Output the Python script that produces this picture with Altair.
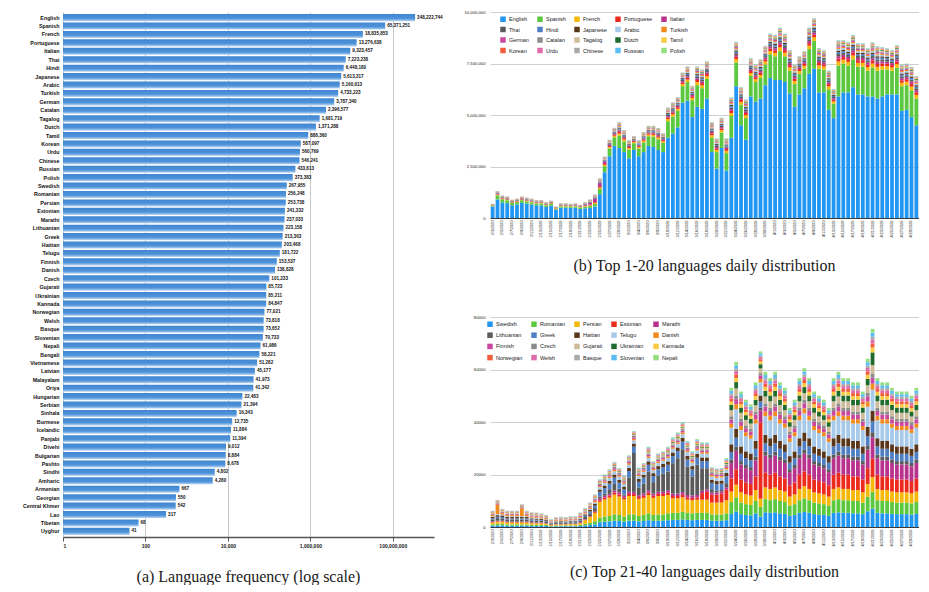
import altair as alt
import pandas as pd

# ---------------- (a) language frequency ----------------
LANGS = ["English", "Spanish", "French", "Portuguese", "Italian", "Thai", "Hindi", "Japanese",
         "Arabic", "Turkish", "German", "Catalan", "Tagalog", "Dutch", "Tamil", "Korean", "Urdu",
         "Chinese", "Russian", "Polish", "Swedish", "Romanian", "Persian", "Estonian", "Marathi",
         "Lithuanian", "Greek", "Haitian", "Telugu", "Finnish", "Danish", "Czech", "Gujarati",
         "Ukrainian", "Kannada", "Norwegian", "Welsh", "Basque", "Slovenian", "Nepali", "Bengali",
         "Vietnamese", "Latvian", "Malayalam", "Oriya", "Hungarian", "Serbian", "Sinhala", "Burmese",
         "Icelandic", "Panjabi", "Divehi", "Bulgarian", "Pashto", "Sindhi", "Amharic", "Armenian",
         "Georgian", "Central Khmer", "Lao", "Tibetan", "Uyghur"]
COUNTS = [348222744, 65371251, 18835853, 13276638, 9323457, 7223238, 6448180, 5613317,
          5160613, 4733223, 3787340, 2396577, 1681719, 1371288, 888360, 587097, 560769,
          546241, 433813, 373383, 267955, 256248, 253738, 241332, 237033,
          223158, 213363, 203468, 181722, 153537, 138828, 101233, 85723,
          85211, 84847, 77021, 73818, 73652, 70733, 61986, 58221,
          51282, 45177, 41973, 41342, 22483, 21394, 16343, 12735,
          11884, 11394, 9012, 8884, 8678, 4802, 4280, 667,
          550, 542, 317, 68, 41]
A_TICKS = [1, 100, 10000, 1000000, 100000000]

PALETTE = ["#2196F3", "#5CC83F", "#F6B80A", "#EC2B1E", "#B7338E",
           "#5A5A5A", "#4E7EC4", "#5B3719", "#A7C9EA", "#F28B1F",
           "#CB48A0", "#8C8C8C", "#CDBB9A", "#1F6B2E", "#F8CB44",
           "#F25B3B", "#E06BA9", "#A9A9A9", "#5CBDF4", "#95DF80"]

START_DATE = "2020-02-03"
N_DAYS = 88
DAYS = [d.strftime("%-m/%-d/%Y") for d in pd.date_range(START_DATE, periods=N_DAYS)]

# ---------------- (b) top 1-20, values in thousands of tweets ----------------
B_LANGS = ["English", "Spanish", "French", "Portuguese", "Italian",
           "Thai", "Hindi", "Japanese", "Arabic", "Turkish",
           "German", "Catalan", "Tagalog", "Dutch", "Tamil",
           "Korean", "Urdu", "Chinese", "Russian", "Polish"]
B_YTICKS = [0, 2500000, 5000000, 7500000, 10000000]

B_ENGLISH = [560,900,760,720,620,660,740,700,660,620,610,540,600,400,500,500,490,500,440,470,490,560,
             1160,2220,3000,3500,3400,3200,2900,3300,3000,3200,3500,3450,3300,3200,
             3900,4100,4400,5600,5700,4900,5400,5300,5800,3200,2400,3400,2300,
             3900,6400,4500,3800,5900,5650,5800,6450,6800,6700,6700,6600,6050,5400,6000,6300,7000,7250,6100,6100,
             5250,4850,5900,6100,6100,6350,6000,6000,5900,5900,5800,5900,6000,6000,6000,5200,5250,4900,4500]
B_SPANISH = [40,200,150,140,110,110,120,110,100,90,95,80,85,50,70,70,65,70,65,80,90,120,
             250,300,380,420,600,520,420,330,380,470,470,500,520,450,
             800,820,800,800,900,820,1050,1000,950,700,800,750,850,
             1050,1150,1000,1050,1000,950,1000,1000,1150,1150,1400,1250,1100,1100,1000,950,1200,1350,1150,1100,
             1000,700,1500,1400,1300,1350,1350,1350,1250,1400,1350,1300,1200,1150,1300,1200,1200,1300,1300]
B_FRENCH = [14,33,29,30,26,27,30,29,29,26,26,23,25,17,23,23,22,23,22,29,38,51,
            59,60,63,72,105,87,72,56,63,80,80,83,87,75,
            105,110,105,105,120,110,143,143,135,120,105,113,113,
            143,158,135,143,135,135,143,143,158,165,180,173,158,150,135,135,165,173,158,150,
            143,113,195,180,180,188,180,180,173,195,188,173,165,158,173,165,165,180,173]
B_PORTUGUESE = [10,24,21,22,19,20,22,21,21,19,19,17,18,12,17,17,16,17,16,21,28,37,
                43,44,46,53,77,64,53,41,46,58,58,61,64,55,
                77,80,77,77,88,80,105,105,99,88,77,83,83,
                105,116,99,105,99,99,105,105,116,121,132,127,116,110,99,99,121,127,116,110,
                105,83,143,132,132,138,132,132,127,143,138,127,121,116,127,121,121,132,127]
B_ITALIAN = [8,20,17,18,15,16,18,17,17,15,16,14,15,10,14,14,13,14,13,50,100,170,
             180,120,60,43,63,52,43,33,38,48,48,50,52,45,
             63,66,63,63,72,66,86,86,81,72,63,68,68,
             86,95,81,86,81,81,86,86,95,99,108,104,95,90,81,81,99,104,95,90,
             86,68,117,108,108,113,108,108,104,117,113,104,99,95,104,99,99,108,104]
B_THAI = [7,18,15,16,14,14,16,15,15,14,14,12,13,9,12,12,12,12,12,15,20,27,
          31,32,34,38,56,46,38,30,34,42,42,44,46,40,
          56,58,56,56,64,58,76,76,72,64,56,60,60,
          76,84,72,76,72,72,76,76,84,88,96,92,84,80,72,72,88,92,84,80,
          76,60,104,96,96,100,96,96,92,104,100,92,88,84,92,88,88,96,92]
B_HINDI = [6,15,13,14,12,13,14,13,13,12,12,11,12,8,11,11,10,11,10,13,18,24,
           27,28,29,34,49,41,34,26,29,37,37,39,41,35,
           49,51,49,49,56,51,67,67,63,56,49,53,53,
           67,74,63,67,63,63,67,67,74,77,84,81,74,70,63,63,77,81,74,70,
           67,53,91,84,84,88,84,84,81,91,88,81,77,74,81,77,77,84,81]
B_JAPANESE = [5,13,11,12,10,11,12,11,11,10,11,9,10,7,9,9,9,9,9,11,15,20,
              23,24,25,29,42,35,29,22,25,32,32,33,35,30,
              42,44,42,42,48,44,57,57,54,48,42,45,45,
              57,63,54,57,54,54,57,57,63,66,72,69,63,60,54,54,66,69,63,60,
              57,45,78,72,72,75,72,72,69,78,75,69,66,63,69,66,66,72,69]
B_ARABIC = [5,13,11,12,10,11,12,11,11,10,11,9,10,7,9,9,9,9,9,11,15,20,
            23,24,25,29,42,35,29,22,25,32,32,33,35,30,
            42,44,42,42,48,44,57,57,54,48,42,45,45,
            57,63,54,57,54,54,57,57,63,66,72,69,63,60,54,54,66,69,63,60,
            57,45,78,72,72,75,72,72,69,78,75,69,66,63,69,66,66,72,69]
B_TURKISH = [5,11,10,10,9,9,10,10,10,9,9,8,8,6,8,8,7,8,7,10,13,17,
             20,20,21,24,35,29,24,19,21,27,27,28,29,25,
             35,37,35,35,40,37,48,48,45,40,35,38,38,
             48,53,45,48,45,45,48,48,53,55,60,58,53,50,45,45,55,58,53,50,
             48,38,65,60,60,63,60,60,58,65,63,58,55,53,58,55,55,60,58]
B_GERMAN = [5,11,10,10,9,9,10,10,10,9,9,8,8,6,8,8,7,8,7,10,13,17,
            20,20,21,24,35,29,24,19,21,27,27,28,29,25,
            35,37,35,35,40,37,48,48,45,40,35,38,38,
            48,53,45,48,45,45,48,48,53,55,60,58,53,50,45,45,55,58,53,50,
            48,38,65,60,60,63,60,60,58,65,63,58,55,53,58,55,55,60,58]
B_CATALAN = [4,9,8,8,7,7,8,8,8,7,7,6,7,4,6,6,6,6,6,8,10,14,
             16,16,17,19,28,23,19,15,17,21,21,22,23,20,
             28,29,28,28,32,29,38,38,36,32,28,30,30,
             38,42,36,38,36,36,38,38,42,44,48,46,42,40,36,36,44,46,42,40,
             38,30,52,48,48,50,48,48,46,52,50,46,44,42,46,44,44,48,46]
B_TAGALOG = [3,7,6,6,5,5,6,6,6,5,5,5,5,3,5,5,4,5,4,6,8,10,
             12,12,13,14,21,17,14,11,13,16,16,17,17,15,
             21,22,21,21,24,22,29,29,27,24,21,23,23,
             29,32,27,29,27,27,29,29,32,33,36,35,32,30,27,27,33,35,32,30,
             29,23,39,36,36,38,36,36,35,39,38,35,33,32,35,33,33,36,35]
B_DUTCH = [3,7,6,6,5,5,6,6,6,5,5,5,5,3,5,5,4,5,4,6,8,10,
           12,12,13,14,21,17,14,11,13,16,16,17,17,15,
           21,22,21,21,24,22,29,29,27,24,21,23,23,
           29,32,27,29,27,27,29,29,32,33,36,35,32,30,27,27,33,35,32,30,
           29,23,39,36,36,38,36,36,35,39,38,35,33,32,35,33,33,36,35]
B_TAMIL = [3,7,6,6,5,5,6,6,6,5,5,5,5,3,5,5,4,5,4,6,8,10,
           12,12,13,14,21,17,14,11,13,16,16,17,17,15,
           21,22,21,21,24,22,29,29,27,24,21,23,23,
           29,32,27,29,27,27,29,29,32,33,36,35,32,30,27,27,33,35,32,30,
           29,23,39,36,36,38,36,36,35,39,38,35,33,32,35,33,33,36,35]
B_KOREAN = [2,4,4,4,3,4,4,4,4,3,4,3,3,2,3,3,3,3,3,4,5,7,
            8,8,8,10,14,12,10,7,8,11,11,11,12,10,
            14,15,14,14,16,15,19,19,18,16,14,15,15,
            19,21,18,19,18,18,19,19,21,22,24,23,21,20,18,18,22,23,21,20,
            19,15,26,24,24,25,24,24,23,26,25,23,22,21,23,22,22,24,23]
B_URDU = [2,4,4,4,3,4,4,4,4,3,4,3,3,2,3,3,3,3,3,4,5,7,
          8,8,8,10,14,12,10,7,8,11,11,11,12,10,
          14,15,14,14,16,15,19,19,18,16,14,15,15,
          19,21,18,19,18,18,19,19,21,22,24,23,21,20,18,18,22,23,21,20,
          19,15,26,24,24,25,24,24,23,26,25,23,22,21,23,22,22,24,23]
B_CHINESE = [2,4,4,4,3,4,4,4,4,3,4,3,3,2,3,3,3,3,3,4,5,7,
             8,8,8,10,14,12,10,7,8,11,11,11,12,10,
             14,15,14,14,16,15,19,19,18,16,14,15,15,
             19,21,18,19,18,18,19,19,21,22,24,23,21,20,18,18,22,23,21,20,
             19,15,26,24,24,25,24,24,23,26,25,23,22,21,23,22,22,24,23]
B_RUSSIAN = [2,4,4,4,3,4,4,4,4,3,4,3,3,2,3,3,3,3,3,4,5,7,
             8,8,8,10,14,12,10,7,8,11,11,11,12,10,
             14,15,14,14,16,15,19,19,18,16,14,15,15,
             19,21,18,19,18,18,19,19,21,22,24,23,21,20,18,18,22,23,21,20,
             19,15,26,24,24,25,24,24,23,26,25,23,22,21,23,22,22,24,23]
B_POLISH = [2,4,4,4,3,4,4,4,4,3,4,3,3,2,3,3,3,3,3,4,5,7,
            8,8,8,10,14,12,10,7,8,11,11,11,12,10,
            14,15,14,14,16,15,19,19,18,16,14,15,15,
            19,21,18,19,18,18,19,19,21,22,24,23,21,20,18,18,22,23,21,20,
            19,15,26,24,24,25,24,24,23,26,25,23,22,21,23,22,22,24,23]
B_VALUES = [B_ENGLISH, B_SPANISH, B_FRENCH, B_PORTUGUESE, B_ITALIAN, B_THAI, B_HINDI,
            B_JAPANESE, B_ARABIC, B_TURKISH, B_GERMAN, B_CATALAN, B_TAGALOG, B_DUTCH,
            B_TAMIL, B_KOREAN, B_URDU, B_CHINESE, B_RUSSIAN, B_POLISH]

# ---------------- (c) top 21-40, values in hundreds of tweets ----------------
C_LANGS = ["Swedish", "Romanian", "Persian", "Estonian", "Marathi",
           "Lithuanian", "Greek", "Haitian", "Telugu", "Danish",
           "Finnish", "Czech", "Gujarati", "Ukrainian", "Kannada",
           "Norwegian", "Welsh", "Basque", "Slovenian", "Nepali"]
C_YTICKS = [0, 20000, 40000, 60000, 80000]

C_SWEDISH = [5,6,6,5,5,5,5,5,4,4,4,4,2,3,3,3,3,3,4,6,8,10,
             18,20,21,24,23,20,24,24,21,23,26,23,24,24,26,27,27,29,27,26,27,27,27,24,24,24,26,
             50,59,49,46,44,52,40,56,54,56,52,50,43,46,54,57,54,49,47,46,
             43,54,56,54,54,52,52,49,60,70,54,52,52,50,49,49,49,47,50]
C_ROMANIAN = [5,6,6,5,5,5,5,5,4,4,4,4,2,3,3,3,3,3,4,6,8,12,
              18,20,21,24,23,20,24,24,21,23,26,23,24,24,26,27,27,29,27,26,27,27,27,24,24,24,26,
              45,54,44,41,40,47,36,50,48,50,47,45,39,41,48,52,48,44,43,41,
              39,48,50,48,48,47,47,44,55,63,48,47,47,45,44,44,44,43,45]
C_PERSIAN = [7,8,8,7,7,7,7,7,6,6,6,5,3,4,4,4,5,5,6,14,22,32,
             60,65,70,75,70,65,70,70,65,65,70,65,70,70,70,55,55,55,50,50,50,50,50,45,45,45,50,
             40,48,39,37,36,42,32,45,43,45,42,40,34,37,43,46,43,39,38,37,
             34,43,45,43,43,42,42,39,49,57,43,42,42,40,39,39,39,38,40]
C_ESTONIAN = [2,2,2,2,2,2,2,2,2,2,2,1,1,1,1,1,1,1,2,2,2,3,
              6,7,7,8,8,7,8,8,7,8,9,8,8,8,9,9,9,10,9,9,9,25,30,30,30,35,40,
              50,59,49,46,44,52,290,56,54,56,52,50,43,46,54,57,54,49,47,46,
              43,54,56,54,54,52,52,49,60,70,54,52,52,50,49,49,49,47,50]
C_MARATHI = [2,2,2,2,2,2,2,2,2,2,2,1,1,1,1,1,1,1,2,2,2,3,
             6,7,7,8,8,7,8,8,7,8,9,8,8,8,9,9,9,10,9,9,9,9,9,8,8,8,9,
             59,70,57,54,52,61,46,65,63,65,61,59,50,54,63,67,63,57,56,54,
             50,63,65,63,63,61,61,57,71,82,63,61,61,59,57,57,57,56,59]
C_LITHUANIAN = [8,10,9,8,8,8,8,8,7,7,6,6,4,4,5,4,5,5,7,8,10,12,
                8,9,18,25,14,5,55,148,30,38,71,44,62,70,71,116,135,163,108,73,115,86,81,13,8,5,16,
                13,16,13,12,12,14,11,15,14,15,14,13,11,12,14,15,14,13,13,12,
                11,14,15,14,14,14,14,13,16,19,14,14,14,13,13,13,13,13,13]
C_GREEK = [4,5,5,4,4,4,4,4,4,3,3,3,2,2,2,2,3,3,3,5,7,9,
           18,20,21,24,23,20,24,24,21,23,26,23,24,24,26,27,27,29,27,26,27,27,27,24,24,24,26,
           29,34,28,26,26,30,23,32,31,32,30,29,25,26,31,33,31,28,27,26,
           25,31,32,31,31,30,30,28,35,41,31,30,30,29,28,28,28,27,29]
C_HAITIAN = [5,6,6,5,5,5,5,5,4,4,4,4,2,3,3,3,3,3,4,5,6,8,
             9,10,11,12,11,10,12,12,11,11,13,11,12,12,13,14,14,14,14,13,14,14,14,12,12,12,13,
             29,34,28,26,26,30,23,32,31,32,30,29,25,26,31,33,31,28,27,26,
             25,31,32,31,31,30,30,28,35,41,31,30,30,29,28,28,28,27,29]
C_TELUGU = [3,4,3,3,3,3,3,3,3,3,2,2,1,2,2,2,2,2,3,3,4,5,
            9,10,11,12,11,10,12,12,11,11,13,11,12,12,13,14,14,14,14,13,14,14,14,12,12,12,13,
            63,75,62,58,56,66,50,71,68,71,66,63,54,58,68,73,68,62,60,58,
            54,68,71,68,68,66,66,62,77,80,68,66,66,63,62,62,62,60,63]
C_DANISH = [5,36,6,5,5,5,30,5,4,4,4,4,2,3,3,3,3,3,4,4,5,6,
            4,5,5,6,5,5,6,6,5,5,6,5,6,6,6,6,6,7,6,6,6,6,6,6,6,6,6,
            16,19,16,15,14,17,13,18,18,18,17,16,14,15,18,19,18,16,15,15,
            14,18,18,18,18,17,17,16,20,23,18,17,17,16,16,16,16,15,16]
C_FINNISH = [3,4,3,3,3,3,3,3,3,3,2,2,1,2,2,2,2,2,3,3,4,5,
             4,5,5,6,5,5,6,6,5,5,6,5,6,6,6,6,6,7,6,6,6,6,6,6,6,6,6,
             16,19,16,15,14,17,13,18,18,18,17,16,14,15,18,19,18,16,15,15,
             14,18,18,18,18,17,17,16,20,23,18,17,17,16,16,16,16,15,16]
C_CZECH = [2,2,2,2,2,2,2,2,2,2,2,1,1,1,1,1,1,1,2,2,3,4,
           4,4,4,5,5,4,5,5,4,5,5,5,5,5,5,5,5,6,5,5,5,5,5,5,5,5,5,
           12,14,11,11,10,12,9,13,12,13,12,12,10,11,12,13,12,11,11,11,
           10,12,13,12,12,12,12,11,14,16,12,12,12,12,11,11,11,11,12]
C_GUJARATI = [3,4,3,3,3,3,3,3,3,3,2,2,1,2,2,2,2,2,3,3,3,4,
              4,4,4,5,5,4,5,5,4,5,5,5,5,5,5,5,5,6,5,5,5,5,5,5,5,5,5,
              23,27,23,21,20,24,18,26,25,26,24,23,20,21,25,26,25,23,22,21,
              20,25,26,25,25,24,24,23,28,32,25,24,24,23,23,23,23,22,23]
C_UKRAINIAN = [1,1,1,1,1,1,1,1,1,1,1,1,1,1,1,1,1,1,1,1,1,1,
               2,2,2,2,2,2,2,2,2,2,3,2,2,2,3,3,3,3,3,3,3,3,3,2,2,2,3,
               20,24,20,18,18,21,16,22,22,22,21,20,17,18,22,23,22,20,19,18,
               17,22,22,22,22,21,21,20,24,48,22,21,21,20,20,20,20,19,20]
C_KANNADA = [1,1,1,1,1,1,1,1,1,1,1,1,1,1,1,1,1,1,1,1,2,2,
             2,2,2,2,2,2,2,2,2,2,3,2,2,2,3,3,3,3,3,3,3,3,3,2,2,2,3,
             13,16,13,12,12,14,11,15,14,15,14,13,11,12,14,15,14,13,13,12,
             11,14,15,14,14,14,14,13,16,19,14,14,14,13,13,13,13,13,13]
C_NORWEGIAN = [2,2,2,2,2,2,2,2,2,2,2,1,1,1,1,1,1,1,2,2,2,2,
               2,2,2,2,2,2,2,2,2,2,3,2,2,2,3,3,3,3,3,3,3,3,3,2,2,2,3,
               11,13,10,10,9,11,8,12,11,12,11,11,9,10,11,12,11,10,10,10,
               9,11,12,11,11,11,11,10,13,15,11,11,11,11,10,10,10,10,11]
C_WELSH = [1,1,1,1,1,1,1,1,1,1,1,1,1,1,1,1,1,1,1,1,1,2,
           2,2,2,2,2,2,2,2,2,2,3,2,2,2,3,3,3,3,3,3,3,3,3,2,2,2,3,
           11,13,10,10,9,11,8,12,11,12,11,11,9,10,11,12,11,10,10,10,
           9,11,12,11,11,11,11,10,13,15,11,11,11,11,10,10,10,10,11]
C_BASQUE = [1,1,1,1,1,1,1,1,1,1,1,1,1,1,1,1,1,1,1,1,1,1,
            2,2,2,2,2,2,2,2,2,2,3,2,2,2,3,3,3,3,3,3,3,3,3,2,2,2,3,
            8,9,8,7,7,8,6,9,8,9,8,8,7,7,8,9,8,8,7,7,
            7,8,9,8,8,8,8,8,9,11,8,8,8,8,8,8,8,7,8]
C_SLOVENIAN = [1,1,1,1,1,1,1,1,1,1,1,1,1,1,1,1,1,1,1,1,1,1,
               2,2,2,2,2,2,2,2,2,2,3,2,2,2,3,3,3,3,3,3,3,3,3,2,2,2,3,
               11,13,10,10,9,11,8,12,11,12,11,11,9,10,11,12,11,10,10,10,
               9,11,12,11,11,11,11,10,13,15,11,11,11,11,10,10,10,10,11]
C_NEPALI = [1,1,1,1,1,1,1,1,1,1,1,1,1,1,1,1,1,1,1,2,1,2,
            2,2,2,2,2,2,2,2,2,2,3,2,2,2,3,3,3,3,3,3,3,3,3,2,2,2,3,
            11,13,10,10,9,11,8,12,11,12,11,11,9,10,11,12,11,10,10,10,
            9,11,12,11,11,11,11,10,13,15,11,11,11,11,10,10,10,10,11]
C_VALUES = [C_SWEDISH, C_ROMANIAN, C_PERSIAN, C_ESTONIAN, C_MARATHI, C_LITHUANIAN, C_GREEK,
            C_HAITIAN, C_TELUGU, C_DANISH, C_FINNISH, C_CZECH, C_GUJARATI, C_UKRAINIAN,
            C_KANNADA, C_NORWEGIAN, C_WELSH, C_BASQUE, C_SLOVENIAN, C_NEPALI]

bad = [(n, len(v)) for n, v in zip(B_LANGS + C_LANGS, B_VALUES + C_VALUES) if len(v) != N_DAYS]
if bad:
    raise SystemExit(f"bad lengths: {bad}")


def long_frame(langs, values, unit):
    rows = []
    for i, (lang, vals) in enumerate(zip(langs, values)):
        for d, v in zip(DAYS, vals):
            rows.append({"day": d, "lang": lang, "idx": i, "value": v * unit})
    return pd.DataFrame(rows)


df_a = pd.DataFrame({"lang": LANGS, "count": COUNTS})
df_b = long_frame(B_LANGS, B_VALUES, 1000)
df_c = long_frame(C_LANGS, C_VALUES, 100)

SANS = "Liberation Sans"
SERIF = "Liberation Serif"

# ---------------- chart (a) ----------------
bar_fill = {"gradient": "linear", "x1": 0, "x2": 0, "y1": 0, "y2": 1,
            "stops": [{"offset": 0, "color": "#3F86D1"},
                      {"offset": 0.62, "color": "#4F93DA"},
                      {"offset": 1, "color": "#BCD7F2"}]}
x_a = alt.X("count:Q", scale=alt.Scale(type="log", domain=[1, 1e9]),
            axis=alt.Axis(title=None, values=A_TICKS, labelExpr="format(datum.value, ',')",
                          labelFontSize=5, labelFontWeight="bold", labelColor="#222", grid=True,
                          gridColor="#c8c8c8", gridWidth=1, domainColor="#555",
                          domainWidth=1.5, tickColor="#555", tickSize=4, labelPadding=2))
y_a = alt.Y("lang:N", sort=LANGS, scale=alt.Scale(paddingInner=0.16, paddingOuter=0.25),
            axis=alt.Axis(title=None, ticks=False, domain=False, labelFontSize=5.3,
                          labelFontWeight="bold", labelColor="#111", labelPadding=4))
bars_a = alt.Chart(df_a).mark_bar(color=bar_fill).encode(y=y_a, x=x_a, x2=alt.datum(1))
text_a = alt.Chart(df_a).mark_text(align="left", baseline="middle", dx=2, fontSize=4.6,
                                   fontWeight="bold", color="#111", font=SANS).encode(
    y=y_a, x=x_a, text=alt.Text("count:Q", format=","))
left = alt.layer(bars_a, text_a).properties(
    width=371, height=525,
    title=alt.TitleParams("(a)  Language frequency (log scale)", orient="bottom", anchor="middle",
                          font=SERIF, fontSize=16, fontWeight="normal", color="#1a1a1a", offset=21))


def daily_chart(df, langs, yticks, ymax, yfmt, height, title, legend_x, legend_y, row_pad, toff):
    return alt.Chart(df).mark_bar().encode(
        x=alt.X("day:N", sort=DAYS, scale=alt.Scale(paddingInner=0.22, paddingOuter=0.15),
                axis=alt.Axis(title=None, values=DAYS[::2], labelAngle=270, labelFontSize=3.8,
                              labelColor="#222", labelPadding=2, ticks=False,
                              domainColor="#3a3a3a", domainWidth=1)),
        y=alt.Y("value:Q", stack="zero", scale=alt.Scale(domain=[0, ymax], nice=False),
                axis=alt.Axis(title=None, values=yticks,
                              labelExpr=f"format(datum.value, '{yfmt}')", labelFontSize=4.2,
                              labelColor="#222", gridColor="#cfcfcf", gridWidth=1,
                              domain=False, ticks=False, labelPadding=5)),
        color=alt.Color("lang:N", scale=alt.Scale(domain=langs, range=PALETTE),
                        legend=alt.Legend(title=None, orient="none", legendX=legend_x,
                                          legendY=legend_y, columns=5, direction="horizontal",
                                          symbolType="square", symbolSize=30,
                                          symbolStrokeWidth=0, labelFontSize=5.5,
                                          labelColor="#222", labelOffset=3, rowPadding=row_pad,
                                          columnPadding=8, padding=0)),
        order=alt.Order("idx:Q", sort="ascending"),
    ).properties(
        width=429, height=height,
        title=alt.TitleParams(title, orient="bottom", anchor="middle", font=SERIF, fontSize=16,
                              fontWeight="normal", color="#1a1a1a", offset=toff))


chart_b = daily_chart(df_b, B_LANGS, B_YTICKS, 10000000, ",", 206,
                      "(b)  Top 1-20 languages daily distribution", 10, 4, 3.5, 21)
chart_c = daily_chart(df_c, C_LANGS, C_YTICKS, 80000, "d", 210,
                      "(c)  Top 21-40 languages daily distribution", -3, 4, 4.2, 18)

right = alt.vconcat(chart_b, chart_c, spacing=99, bounds="flush").resolve_scale(
    color="independent").resolve_legend(color="independent")
chart = alt.hconcat(left, right, spacing=56, bounds="flush").resolve_scale(
    color="independent").resolve_legend(color="independent").properties(
    padding={"left": 14, "top": 2, "right": 0, "bottom": 0},
    background="white",
).configure_view(stroke=None).configure_axis(labelFont=SANS).configure_legend(labelFont=SANS)

chart.save("out.html", embed_options={"renderer": "svg", "actions": False})
